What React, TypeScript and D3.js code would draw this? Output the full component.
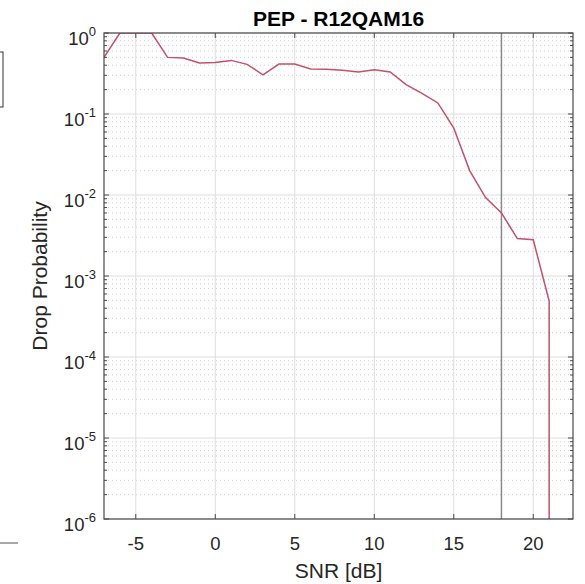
import React from 'react';
import * as d3 from 'd3';

// SNR points [dB] and drop probability
const snr = [-7, -6, -5, -4, -3, -2, -1, 0, 1, 2, 3, 4, 5, 6, 7, 8, 9, 10, 11, 12, 13, 14, 15, 16, 17, 18, 19, 20, 21, 22];
const dropProb = [0.5, 1, 1, 1, 0.5, 0.49, 0.427, 0.433, 0.459, 0.41, 0.305, 0.414, 0.414, 0.36, 0.356, 0.346, 0.33, 0.352, 0.33, 0.23, 0.18, 0.137, 0.067, 0.02, 0.0093, 0.006, 0.0029, 0.0028, 0.00049, 0];
const xTicks = [-5, 0, 5, 10, 15, 20];
const yExponents = [0, -1, -2, -3, -4, -5, -6];
const markerSnr = 18;

const title = 'PEP - R12QAM16';
const xLabel = 'SNR [dB]';
const yLabel = 'Drop Probability';

const W = 585;
const H = 584;
const margin = {left: 104, right: 12, top: 33, bottom: 65};

export default function App() {
  const x0 = margin.left;
  const x1 = W - margin.right;
  const y0 = margin.top;
  const y1 = H - margin.bottom;

  const x = d3.scaleLinear().domain([-7, 22.5]).range([x0, x1]);
  const y = d3.scaleLog().domain([1e-6, 1]).range([y1, y0]);

  // minor ticks (2..9 per decade)
  const minors: number[] = [];
  yExponents.slice(0, -1).forEach(e => {
    for (let k = 2; k <= 9; k++) minors.push(k * Math.pow(10, e - 1));
  });

  // log axis: a zero value drops straight down from the previous point
  const pts: [number, number][] = [];
  snr.forEach((s, i) => {
    const v = dropProb[i];
    if (v > 0) pts.push([x(s), y(v)]);
    else pts.push([x(snr[i - 1]), y1 + 50]);
  });
  const line = d3.line();

  const font = 'Liberation Sans, Arial, Helvetica, sans-serif';
  const axisColor = '#4a4a4a';

  return (
    <svg width={W} height={H} style={{position: 'absolute', left: 0, top: 0, background: '#fff'}}>
      <defs>
        <clipPath id="plot">
          <rect x={x0} y={y0} width={x1 - x0} height={y1 - y0} />
        </clipPath>
      </defs>

      {/* fragments of a neighbouring figure */}
      <rect x={-60} y={52} width={63} height={55} fill="none" stroke="#333" strokeWidth={1} />
      <line x1={0} x2={18} y1={543} y2={543} stroke="#555" strokeWidth={1} />

      {/* minor grid */}
      {minors.map(m => (
        <line key={'mg' + m} x1={x0} x2={x1} y1={y(m)} y2={y(m)} stroke="#d2d2d2" strokeWidth={1} strokeDasharray="1,3" />
      ))}
      {/* major grid */}
      {yExponents.map(e => (
        <line key={'yg' + e} x1={x0} x2={x1} y1={y(Math.pow(10, e))} y2={y(Math.pow(10, e))} stroke="#dedede" strokeWidth={1} />
      ))}
      {xTicks.map(t => (
        <line key={'xg' + t} x1={x(t)} x2={x(t)} y1={y0} y2={y1} stroke="#dedede" strokeWidth={1} />
      ))}

      {/* marker line */}
      <line x1={x(markerSnr)} x2={x(markerSnr)} y1={y0} y2={y1} stroke="#8a8a8a" strokeWidth={1.5} />

      {/* data */}
      <path d={line(pts) || ''} fill="none" stroke="#c5506a" strokeWidth={1.5} clipPath="url(#plot)" />

      {/* axes box */}
      <rect x={x0} y={y0} width={x1 - x0} height={y1 - y0} fill="none" stroke={axisColor} strokeWidth={1.2} />

      {/* ticks */}
      {xTicks.map(t => (
        <g key={'xt' + t}>
          <line x1={x(t)} x2={x(t)} y1={y1} y2={y1 - 5} stroke={axisColor} />
          <line x1={x(t)} x2={x(t)} y1={y0} y2={y0 + 5} stroke={axisColor} />
          <text x={x(t)} y={y1 + 31} textAnchor="middle" fontFamily={font} fontSize={18.5} fill="#262626">
            {t < 0 ? '-' + Math.abs(t) : t}
          </text>
        </g>
      ))}
      {yExponents.map(e => {
        const yy = y(Math.pow(10, e));
        return (
          <g key={'yt' + e}>
            <line x1={x0} x2={x0 + 5} y1={yy} y2={yy} stroke={axisColor} />
            <line x1={x1} x2={x1 - 5} y1={yy} y2={yy} stroke={axisColor} />
            <text x={x0 - 8} y={yy + 12} textAnchor="end" fontFamily={font} fontSize={18.5} fill="#262626">
              10<tspan dy={-9} fontSize={13}>{e}</tspan>
            </text>
          </g>
        );
      })}
      {minors.map(m => (
        <g key={'mt' + m}>
          <line x1={x0} x2={x0 + 3} y1={y(m)} y2={y(m)} stroke={axisColor} />
          <line x1={x1} x2={x1 - 3} y1={y(m)} y2={y(m)} stroke={axisColor} />
        </g>
      ))}

      {/* labels */}
      <text x={(x0 + x1) / 2} y={26} textAnchor="middle" fontFamily={font} fontSize={21} fontWeight="bold" fill="#000">
        {title}
      </text>
      <text x={(x0 + x1) / 2} y={578} textAnchor="middle" fontFamily={font} fontSize={21} fill="#262626">
        {xLabel}
      </text>
      <text transform={`translate(47,${(y0 + y1) / 2}) rotate(-90)`} textAnchor="middle" fontFamily={font} fontSize={21} fill="#262626">
        {yLabel}
      </text>
    </svg>
  );
}
